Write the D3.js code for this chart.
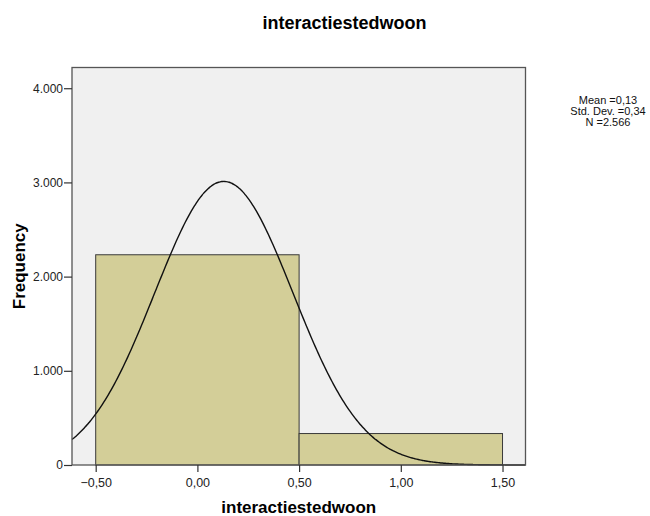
<!DOCTYPE html>
<html><head><meta charset="utf-8">
<script src="https://cdn.jsdelivr.net/npm/d3@7"></script>
<style>body{margin:0;background:#fff;} svg{display:block;font-family:"Liberation Sans",Arial,sans-serif;}</style>
</head><body>
<svg id="c" width="650" height="516"></svg>
<script>
// Data
const binLower = [-0.5, 0.5];
const binUpper = [0.5, 1.5];
const counts = [2232, 334];
const statLabels = ["Mean =0,13", "Std. Dev. =0,34", "N =2.566"];
const meanVal = [0.13];
const sdVal = [0.34];
const nVal = [2566];
const xTicks = [-0.5, 0, 0.5, 1.0, 1.5];
const yTicks = [0, 1000, 2000, 3000, 4000];
const title = "interactiestedwoon";
const xLabel = "interactiestedwoon";
const yLabel = "Frequency";

const svg = d3.select("#c");
const L = 72, R = 525.5, T = 67.5, B = 465;
const x = d3.scaleLinear().domain([-0.6165, 1.613]).range([L, R]);
const y = d3.scaleLinear().domain([0, 4220]).range([B, T]);

svg.append("rect").attr("x", L).attr("y", T).attr("width", R - L).attr("height", B - T)
  .attr("fill", "#f0f0f0");

const bins = counts.map((c, i) => ({lo: binLower[i], hi: binUpper[i], c}));
svg.selectAll("rect.bar").data(bins).join("rect").attr("class", "bar")
  .attr("x", d => x(d.lo)).attr("y", d => y(d.c))
  .attr("width", d => x(d.hi) - x(d.lo)).attr("height", d => y(0) - y(d.c))
  .attr("fill", "#d3ce98").attr("stroke", "#3a3a3a").attr("stroke-width", 1);

// normal curve from displayed statistics
const m = meanVal[0], s = sdVal[0], n = nVal[0], bw = binUpper[0] - binLower[0];
const xs = d3.range(0, 301).map(i => x.domain()[0] + (x.domain()[1] - x.domain()[0]) * i / 300);
const curve = xs.map(v => [v, n * bw / (s * Math.sqrt(2 * Math.PI)) * Math.exp(-0.5 * ((v - m) / s) ** 2)]);
svg.append("path").datum(curve)
  .attr("d", d3.line().x(d => x(d[0])).y(d => y(d[1])).curve(d3.curveBasis))
  .attr("fill", "none").attr("stroke", "#111").attr("stroke-width", 1.4);

// frame
svg.append("rect").attr("x", L).attr("y", T).attr("width", R - L).attr("height", B - T)
  .attr("fill", "none").attr("stroke", "#555").attr("stroke-width", 1.3);

// axes
const yAxis = d3.axisLeft(y).tickValues(yTicks).tickSize(8).tickPadding(1)
  .tickFormat(v => v === 0 ? "0" : d3.format(",")(v).replace(/,/g, "."));
const gy = svg.append("g").attr("transform", `translate(${L},0)`).call(yAxis);
gy.select(".domain").remove();
gy.selectAll("line").attr("stroke", "#333").attr("stroke-width", 1.2);
gy.selectAll("text").attr("font-size", 12).attr("fill", "#222").attr("font-family", "Liberation Sans, Arial, sans-serif");

const xAxis = d3.axisBottom(x).tickValues(xTicks).tickSize(7).tickPadding(6)
  .tickFormat(v => d3.format(".2f")(v).replace(".", ","));
const gx = svg.append("g").attr("transform", `translate(0,${B})`).call(xAxis);
gx.select(".domain").remove();
gx.selectAll("line").attr("stroke", "#333").attr("stroke-width", 1.2);
gx.selectAll("text").attr("font-size", 12.5).attr("fill", "#222").attr("font-family", "Liberation Sans, Arial, sans-serif");

// titles
svg.append("text").attr("x", 344.5).attr("y", 29).attr("text-anchor", "middle")
  .attr("font-size", 18).attr("font-weight", "bold").text(title);
svg.append("text").attr("x", (L + R) / 2).attr("y", 513).attr("text-anchor", "middle")
  .attr("font-size", 17).attr("font-weight", "bold").text(xLabel);
svg.append("text").attr("transform", `translate(25,${(T + B) / 2}) rotate(-90)`).attr("text-anchor", "middle")
  .attr("font-size", 17).attr("font-weight", "bold").text(yLabel);

// stats
svg.selectAll("text.stat").data(statLabels).join("text").attr("class", "stat")
  .attr("x", 608).attr("y", (d, i) => 103.5 + i * 11).attr("text-anchor", "middle")
  .attr("font-size", 11).attr("fill", "#111").text(d => d);
</script>
</body></html>
